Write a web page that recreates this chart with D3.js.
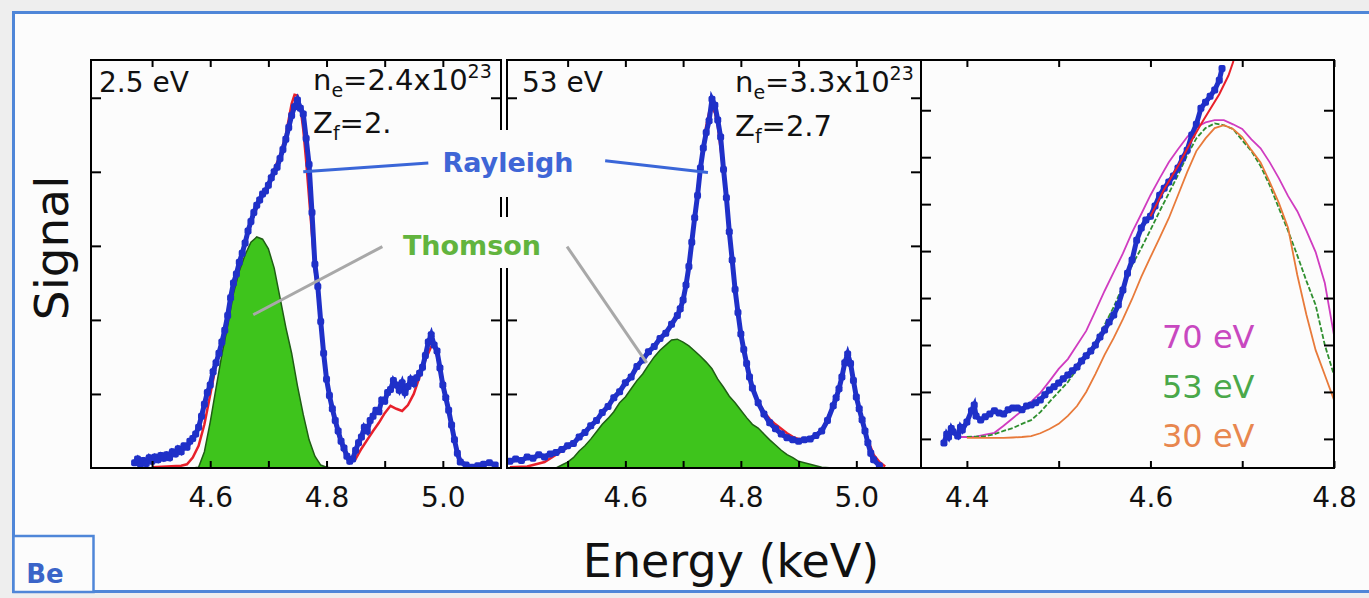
<!DOCTYPE html>
<html>
<head>
<meta charset="utf-8">
<script src="https://d3js.org/d3.v7.min.js"></script>
<style>
body { margin: 0; background: #efefef; }
svg { display: block; }
text { font-family: "DejaVu Sans", sans-serif; }
</style>
</head>
<body>
<div id="chart"></div>
<script>
// ---- data (energy keV, signal arb. units) ----
// panel 1 : 2.5 eV
var p1Data = [[4.47,0.07],[4.475,0.12],[4.48,0.05],[4.485,0.10],[4.49,0.06],[4.495,0.14],[4.50,0.09],[4.505,0.15],[4.51,0.11],[4.515,0.17],[4.52,0.13],[4.525,0.18],[4.53,0.14],[4.535,0.22],[4.54,0.19],[4.545,0.26],[4.55,0.22],[4.555,0.30],[4.56,0.28],[4.565,0.36],[4.57,0.40],[4.575,0.46],[4.58,0.55],[4.585,0.70],[4.59,0.86],[4.595,1.02],[4.60,1.12],[4.605,1.30],[4.61,1.42],[4.615,1.55],[4.62,1.70],[4.625,1.86],[4.63,2.06],[4.635,2.30],[4.64,2.50],[4.645,2.62],[4.65,2.78],[4.655,2.90],[4.66,3.04],[4.665,3.20],[4.67,3.33],[4.675,3.45],[4.68,3.55],[4.685,3.62],[4.69,3.70],[4.695,3.74],[4.70,3.82],[4.705,3.92],[4.71,4.00],[4.715,4.06],[4.72,4.18],[4.725,4.30],[4.73,4.44],[4.735,4.60],[4.74,4.76],[4.745,4.88],[4.75,4.97],[4.755,4.86],[4.76,4.78],[4.765,4.45],[4.77,4.10],[4.775,3.45],[4.78,2.75],[4.785,2.45],[4.79,1.98],[4.795,1.55],[4.80,1.20],[4.805,0.98],[4.81,0.80],[4.815,0.64],[4.82,0.50],[4.825,0.36],[4.83,0.27],[4.835,0.16],[4.84,0.09],[4.845,0.12],[4.85,0.24],[4.855,0.34],[4.86,0.42],[4.865,0.55],[4.87,0.50],[4.875,0.64],[4.88,0.70],[4.885,0.78],[4.89,0.76],[4.895,0.92],[4.90,0.90],[4.905,1.02],[4.91,1.06],[4.915,1.18],[4.92,1.12],[4.925,1.05],[4.93,1.15],[4.935,1.02],[4.94,1.10],[4.945,1.20],[4.95,1.14],[4.955,1.22],[4.96,1.28],[4.965,1.36],[4.97,1.52],[4.975,1.70],[4.98,1.80],[4.985,1.66],[4.99,1.58],[4.995,1.35],[5.00,1.12],[5.005,0.95],[5.01,0.78],[5.015,0.58],[5.02,0.38],[5.025,0.20],[5.03,0.08],[5.04,0.04],[5.05,0.01],[5.06,0.03],[5.07,0.05],[5.08,0.07],[5.09,0.04]];
var p1Fit = [[4.50,0.01],[4.55,0.03],[4.56,0.05],[4.57,0.14],[4.58,0.30],[4.59,0.59],[4.60,0.99],[4.61,1.39],[4.62,1.73],[4.63,2.09],[4.64,2.49],[4.65,2.77],[4.66,3.03],[4.67,3.31],[4.68,3.51],[4.69,3.68],[4.70,3.85],[4.71,4.03],[4.72,4.22],[4.73,4.50],[4.74,4.92],[4.745,5.04],[4.75,5.03],[4.755,4.88],[4.76,4.57],[4.765,4.14],[4.77,3.65],[4.775,3.15],[4.78,2.66],[4.785,2.35],[4.79,1.93],[4.80,1.19],[4.81,0.76],[4.82,0.45],[4.83,0.22],[4.84,0.12],[4.85,0.12],[4.86,0.26],[4.87,0.38],[4.88,0.50],[4.89,0.61],[4.90,0.74],[4.91,0.84],[4.92,0.80],[4.93,0.77],[4.94,0.85],[4.95,1.00],[4.96,1.23],[4.97,1.46],[4.98,1.64],[4.985,1.65],[4.99,1.51],[5.00,1.19],[5.01,0.74],[5.02,0.38],[5.03,0.12],[5.04,0.03],[5.05,0.01],[5.07,0.01]];
var p1Thomson = [[4.57,0],[4.58,0.01],[4.59,0.22],[4.60,0.62],[4.61,1.08],[4.62,1.53],[4.63,1.92],[4.64,2.36],[4.65,2.66],[4.66,2.88],[4.67,3.05],[4.68,3.12],[4.69,3.09],[4.70,2.96],[4.71,2.70],[4.72,2.30],[4.73,1.90],[4.74,1.55],[4.75,1.11],[4.76,0.72],[4.77,0.38],[4.78,0.16],[4.79,0.04],[4.80,0.01],[4.81,0]];

// panel 2 : 53 eV
var p2Data = [[4.40,0.09],[4.41,0.12],[4.42,0.10],[4.43,0.15],[4.44,0.13],[4.45,0.18],[4.46,0.15],[4.47,0.19],[4.48,0.21],[4.49,0.25],[4.50,0.30],[4.51,0.33],[4.52,0.42],[4.53,0.48],[4.54,0.57],[4.55,0.64],[4.56,0.75],[4.57,0.83],[4.58,0.95],[4.59,1.03],[4.60,1.15],[4.61,1.23],[4.62,1.37],[4.63,1.46],[4.64,1.57],[4.65,1.64],[4.66,1.75],[4.67,1.82],[4.68,1.94],[4.69,2.06],[4.695,2.15],[4.70,2.27],[4.705,2.47],[4.71,2.72],[4.715,3.05],[4.72,3.38],[4.725,3.68],[4.73,4.05],[4.735,4.32],[4.74,4.53],[4.745,4.69],[4.75,4.98],[4.755,4.90],[4.76,4.70],[4.765,4.47],[4.77,4.03],[4.775,3.65],[4.78,3.19],[4.785,2.81],[4.79,2.41],[4.795,2.10],[4.80,1.81],[4.805,1.60],[4.81,1.41],[4.815,1.23],[4.82,1.08],[4.83,0.88],[4.84,0.73],[4.85,0.61],[4.86,0.53],[4.87,0.46],[4.88,0.41],[4.89,0.38],[4.90,0.36],[4.91,0.38],[4.92,0.39],[4.93,0.44],[4.94,0.50],[4.95,0.64],[4.96,0.84],[4.965,0.95],[4.97,1.07],[4.975,1.23],[4.98,1.42],[4.985,1.54],[4.99,1.41],[4.995,1.18],[5.00,0.96],[5.005,0.80],[5.01,0.65],[5.015,0.50],[5.02,0.34],[5.025,0.20],[5.03,0.11],[5.04,0.03]];
var p2Fit = [[4.40,0.01],[4.43,0.02],[4.46,0.08],[4.48,0.18],[4.50,0.28],[4.53,0.49],[4.56,0.74],[4.60,1.13],[4.64,1.55],[4.67,1.82],[4.69,2.05],[4.70,2.25],[4.71,2.70],[4.72,3.40],[4.73,4.10],[4.74,4.62],[4.745,4.80],[4.75,4.86],[4.755,4.80],[4.76,4.62],[4.77,4.00],[4.78,3.15],[4.79,2.40],[4.80,1.82],[4.81,1.42],[4.82,1.10],[4.83,0.90],[4.84,0.76],[4.85,0.66],[4.86,0.59],[4.87,0.53],[4.88,0.47],[4.89,0.42],[4.90,0.39],[4.92,0.40],[4.94,0.51],[4.96,0.84],[4.97,1.07],[4.98,1.40],[4.985,1.50],[4.99,1.40],[5.00,0.98],[5.01,0.66],[5.02,0.38],[5.03,0.18],[5.04,0.08],[5.05,0.02]];
var p2Thomson = [[4.48,0],[4.49,0.04],[4.50,0.08],[4.51,0.14],[4.52,0.23],[4.53,0.30],[4.54,0.39],[4.55,0.49],[4.56,0.59],[4.57,0.67],[4.58,0.76],[4.59,0.88],[4.60,0.96],[4.61,1.07],[4.62,1.18],[4.63,1.27],[4.64,1.39],[4.65,1.50],[4.66,1.59],[4.67,1.66],[4.68,1.73],[4.69,1.74],[4.70,1.70],[4.71,1.65],[4.72,1.58],[4.73,1.51],[4.74,1.43],[4.75,1.34],[4.76,1.20],[4.77,1.09],[4.78,0.97],[4.79,0.88],[4.80,0.78],[4.81,0.68],[4.82,0.59],[4.83,0.54],[4.84,0.46],[4.85,0.38],[4.86,0.31],[4.87,0.24],[4.88,0.18],[4.89,0.14],[4.90,0.09],[4.91,0.07],[4.92,0.05],[4.93,0.03],[4.94,0.01],[4.96,0]];

// panel 3 : zoom on the Thomson feature, fits at three temperatures
var p3Data = [[4.375,-0.09],[4.378,0.10],[4.38,0.04],[4.383,0.22],[4.385,0.15],[4.39,0.06],[4.393,0.25],[4.395,0.19],[4.40,0.36],[4.405,0.60],[4.408,0.72],[4.41,0.49],[4.415,0.40],[4.42,0.47],[4.425,0.53],[4.43,0.60],[4.435,0.55],[4.44,0.53],[4.445,0.62],[4.45,0.66],[4.455,0.66],[4.46,0.62],[4.465,0.70],[4.47,0.72],[4.475,0.77],[4.48,0.83],[4.485,0.94],[4.49,1.04],[4.495,1.11],[4.50,1.19],[4.505,1.28],[4.51,1.36],[4.515,1.45],[4.52,1.53],[4.525,1.66],[4.53,1.77],[4.535,1.87],[4.54,2.00],[4.545,2.17],[4.55,2.32],[4.555,2.49],[4.56,2.64],[4.565,2.85],[4.57,3.17],[4.575,3.53],[4.58,3.81],[4.585,4.23],[4.59,4.49],[4.595,4.66],[4.60,4.74],[4.605,4.96],[4.61,5.19],[4.615,5.34],[4.62,5.47],[4.625,5.60],[4.63,5.77],[4.635,5.98],[4.64,6.15],[4.645,6.47],[4.65,6.70],[4.655,7.04],[4.66,7.17],[4.665,7.30],[4.67,7.43],[4.675,7.64],[4.678,7.89]];
var p3Fit = [[4.60,4.74],[4.615,5.32],[4.63,5.81],[4.645,6.36],[4.655,6.70],[4.665,7.02],[4.675,7.34],[4.685,7.74],[4.69,8.02],[4.692,8.2]];
var p3Fit70 = [[4.39,0.04],[4.40,0.04],[4.41,0.05],[4.42,0.09],[4.43,0.13],[4.44,0.28],[4.45,0.44],[4.46,0.60],[4.47,0.79],[4.48,0.98],[4.49,1.23],[4.50,1.49],[4.51,1.70],[4.52,2.00],[4.53,2.30],[4.54,2.72],[4.55,3.15],[4.56,3.55],[4.57,3.95],[4.58,4.40],[4.59,4.79],[4.60,5.19],[4.61,5.55],[4.62,5.89],[4.63,6.17],[4.64,6.43],[4.65,6.64],[4.66,6.74],[4.67,6.79],[4.68,6.79],[4.69,6.70],[4.70,6.60],[4.71,6.38],[4.72,6.19],[4.73,5.89],[4.74,5.55],[4.75,5.17],[4.76,4.85],[4.77,4.43],[4.78,3.98],[4.79,3.32],[4.80,2.21]];
var p3Fit53 = [[4.40,0.04],[4.41,0.05],[4.42,0.06],[4.43,0.10],[4.44,0.17],[4.45,0.23],[4.46,0.32],[4.47,0.40],[4.48,0.57],[4.49,0.79],[4.50,1.00],[4.51,1.21],[4.52,1.49],[4.53,1.77],[4.54,2.06],[4.55,2.43],[4.56,2.81],[4.57,3.26],[4.58,3.70],[4.59,4.06],[4.60,4.45],[4.61,4.85],[4.62,5.23],[4.63,5.62],[4.64,6.04],[4.65,6.40],[4.66,6.62],[4.67,6.72],[4.68,6.68],[4.69,6.60],[4.70,6.36],[4.71,6.13],[4.72,5.81],[4.73,5.40],[4.74,4.91],[4.75,4.43],[4.76,3.91],[4.77,3.36],[4.78,2.85],[4.79,2.00],[4.80,1.36]];
var p3Fit30 = [[4.40,0.02],[4.42,0.02],[4.44,0.02],[4.45,0.03],[4.46,0.04],[4.47,0.06],[4.48,0.12],[4.49,0.21],[4.50,0.32],[4.51,0.49],[4.52,0.70],[4.53,1.00],[4.54,1.38],[4.55,1.79],[4.56,2.15],[4.57,2.55],[4.58,2.98],[4.59,3.45],[4.60,3.87],[4.61,4.28],[4.62,4.70],[4.63,5.19],[4.64,5.68],[4.65,6.13],[4.66,6.40],[4.67,6.62],[4.68,6.68],[4.69,6.60],[4.70,6.43],[4.71,6.15],[4.72,5.89],[4.73,5.47],[4.74,5.02],[4.75,4.49],[4.76,3.49],[4.77,2.64],[4.78,1.89],[4.79,1.36],[4.80,0.83]];

// ticks and labels
var p12Ticks = [4.5, 4.6, 4.7, 4.8, 4.9, 5.0];
var p12TickLabels = ["", "4.6", "", "4.8", "", "5.0"];
var p12YTicks = [1, 2, 3, 4, 5];
var p3Ticks = [4.4, 4.5, 4.6, 4.7, 4.8];
var p3TickLabels = ["4.4", "", "4.6", "", "4.8"];
var p3YTicks = [0, 1, 2, 3, 4, 5, 6, 7];
var legendLabels = ["70 eV", "53 eV", "30 eV"];

// colours
var blue = "#1f30c8";
var red = "#e8202a";
var greenFill = "#3ec41c";
var greenEdge = "#1f5e14";
var curveColors = ["#d03cc0", "#2f8f2f", "#e87a3a"];
var legendColors = ["#c848c0", "#4aa84a", "#e8874f"];

var svg;
var plotTop = 60, plotBottom = 468;

function makePanel(id, left, right, xDomain, yDomain, xTicks, xLabels, yTicks) {
    var x = d3.scaleLinear().domain(xDomain).range([left, right]);
    var y = d3.scaleLinear().domain(yDomain).range([plotBottom, plotTop]);

    svg.append("clipPath").attr("id", "clip" + id)
        .append("rect")
        .attr("x", left).attr("y", plotTop)
        .attr("width", right - left).attr("height", plotBottom - plotTop);

    var marks = svg.append("g").attr("clip-path", "url(#clip" + id + ")");
    var axes = svg.append("g");

    function style(g) {
        g.select(".domain").remove();
        g.selectAll(".tick line").attr("stroke", "#000").attr("stroke-width", 2);
        g.selectAll(".tick text").attr("font-family", "DejaVu Sans, sans-serif")
            .attr("font-size", 28).attr("fill", "#111");
    }

    axes.append("g")
        .attr("transform", "translate(0," + plotBottom + ")")
        .call(d3.axisBottom(x).tickValues(xTicks).tickSizeInner(-7).tickSizeOuter(0)
            .tickPadding(19).tickFormat(function(d, i) { return xLabels[i]; }))
        .call(style);
    axes.append("g")
        .attr("transform", "translate(0," + plotTop + ")")
        .call(d3.axisTop(x).tickValues(xTicks).tickSizeInner(-7).tickSizeOuter(0).tickFormat(""))
        .call(style);
    axes.append("g")
        .attr("transform", "translate(" + left + ",0)")
        .call(d3.axisLeft(y).tickValues(yTicks).tickSizeInner(-10).tickSizeOuter(0).tickFormat(""))
        .call(style);
    axes.append("g")
        .attr("transform", "translate(" + right + ",0)")
        .call(d3.axisRight(y).tickValues(yTicks).tickSizeInner(-10).tickSizeOuter(0).tickFormat(""))
        .call(style);

    axes.append("rect")
        .attr("x", left).attr("y", plotTop)
        .attr("width", right - left).attr("height", plotBottom - plotTop)
        .attr("fill", "none").attr("stroke", "#000").attr("stroke-width", 2);

    return {x: x, y: y, marks: marks};
}

function drawArea(p, data) {
    var area = d3.area()
        .x(function(d) { return p.x(d[0]); })
        .y0(p.y(0))
        .y1(function(d) { return p.y(d[1]); });
    p.marks.append("path").datum(data)
        .attr("d", area)
        .attr("fill", greenFill)
        .attr("stroke", greenEdge)
        .attr("stroke-width", 1.5);
}

function drawLine(p, data, color, w, dash) {
    var line = d3.line()
        .x(function(d) { return p.x(d[0]); })
        .y(function(d) { return p.y(d[1]); });
    p.marks.append("path").datum(data)
        .attr("d", line)
        .attr("fill", "none")
        .attr("stroke", color)
        .attr("stroke-width", w)
        .attr("stroke-dasharray", dash || null);
}

function drawDots(p, data) {
    drawLine(p, data, blue, 5);
    p.marks.selectAll(null)
        .data(data)
        .enter()
        .append("rect")
        .attr("x", function(d) { return p.x(d[0]) - 3.5; })
        .attr("y", function(d) { return p.y(d[1]) - 3.5; })
        .attr("width", 7).attr("height", 7)
        .attr("rx", 2)
        .attr("fill", blue);
}

function panelText(x, y, parts) {
    // parts: [text, kind] kind = "" | "sub" | "sup"
    var t = svg.append("text").attr("x", x).attr("y", y)
        .attr("font-size", 29).attr("fill", "#111");
    var shift = 0;
    parts.forEach(function(p) {
        var target = p[1] == "sub" ? 7 : (p[1] == "sup" ? -12 : 0);
        t.append("tspan")
            .attr("dy", target - shift)
            .attr("font-size", p[1] ? 19 : 29)
            .text(p[0]);
        shift = target;
    });
}

function init() {
    svg = d3.select("#chart").append("svg")
        .attr("width", 1369)
        .attr("height", 598);

    // outer frame
    svg.append("rect").attr("x", 0).attr("y", 0).attr("width", 1369).attr("height", 598)
        .attr("fill", "#eeeeee");
    svg.append("rect").attr("x", 13.5).attr("y", 12.5).attr("width", 1370).attr("height", 579)
        .attr("fill", "#fcfcfc").attr("stroke", "#4f86d8").attr("stroke-width", 3);

    var p1 = makePanel(1, 91, 501, [4.395, 5.1], [0, 5.51], p12Ticks, p12TickLabels, p12YTicks);
    var p2 = makePanel(2, 507, 921, [4.395, 5.112], [0, 5.51], p12Ticks, p12TickLabels, p12YTicks);
    var p3 = makePanel(3, 921, 1334, [4.35, 4.8], [-0.62, 8.07], p3Ticks, p3TickLabels, p3YTicks);

    drawArea(p1, p1Thomson);
    drawLine(p1, p1Fit, red, 2.5);
    drawDots(p1, p1Data);

    drawArea(p2, p2Thomson);
    drawLine(p2, p2Fit, red, 2.5);
    drawDots(p2, p2Data);

    drawLine(p3, p3Fit70, curveColors[0], 1.8);
    drawLine(p3, p3Fit53, curveColors[1], 1.8, "5,2");
    drawLine(p3, p3Fit30, curveColors[2], 1.8);
    drawDots(p3, p3Data);
    drawLine(p3, p3Fit, red, 2);

    // white boxes behind the annotation labels
    svg.append("rect").attr("x", 437).attr("y", 130).attr("width", 146).attr("height", 67).attr("fill", "#fcfcfc");
    svg.append("rect").attr("x", 398).attr("y", 217).attr("width", 151).attr("height", 51).attr("fill", "#fcfcfc");

    // Rayleigh pointers
    svg.append("line")
        .attr("x1", p1.x(4.975)).attr("y1", p1.y(4.12))
        .attr("x2", p1.x(4.76)).attr("y2", p1.y(4.0))
        .attr("stroke", "#3a66d8").attr("stroke-width", 3);
    svg.append("line")
        .attr("x1", p2.x(4.565)).attr("y1", p2.y(4.15))
        .attr("x2", p2.x(4.743)).attr("y2", p2.y(3.99))
        .attr("stroke", "#3a66d8").attr("stroke-width", 3);
    // Thomson pointers
    svg.append("line")
        .attr("x1", p1.x(4.896)).attr("y1", p1.y(2.99))
        .attr("x2", p1.x(4.674)).attr("y2", p1.y(2.07))
        .attr("stroke", "#a8a8a8").attr("stroke-width", 3);
    svg.append("line")
        .attr("x1", p2.x(4.499)).attr("y1", p2.y(2.99))
        .attr("x2", p2.x(4.637)).attr("y2", p2.y(1.42))
        .attr("stroke", "#a8a8a8").attr("stroke-width", 3);

    svg.append("text").attr("x", 508).attr("y", 172)
        .attr("text-anchor", "middle").attr("font-weight", "bold")
        .attr("font-size", 27).attr("fill", "#3f66d6").text("Rayleigh");
    svg.append("text").attr("x", 472).attr("y", 255)
        .attr("text-anchor", "middle").attr("font-weight", "bold")
        .attr("font-size", 27).attr("fill", "#62b43e").text("Thomson");

    // panel annotations
    svg.append("text").attr("x", 99).attr("y", 92).attr("font-size", 28).attr("fill", "#111").text("2.5 eV");
    svg.append("text").attr("x", 522).attr("y", 92).attr("font-size", 28).attr("fill", "#111").text("53 eV");
    panelText(313, 90, [["n", ""], ["e", "sub"], ["=2.4x10", ""], ["23", "sup"]]);
    panelText(313, 133, [["Z", ""], ["f", "sub"], ["=2.", ""]]);
    panelText(735, 92, [["n", ""], ["e", "sub"], ["=3.3x10", ""], ["23", "sup"]]);
    panelText(735, 136, [["Z", ""], ["f", "sub"], ["=2.7", ""]]);

    // legend of panel 3
    svg.selectAll(null)
        .data(legendLabels)
        .enter()
        .append("text")
        .attr("x", 1162)
        .attr("y", function(d, i) { return 348 + i * 49.5; })
        .attr("font-size", 32)
        .attr("fill", function(d, i) { return legendColors[i]; })
        .text(function(d) { return d; });

    // axis titles
    svg.append("text")
        .attr("transform", "translate(68,248) rotate(-90)")
        .attr("text-anchor", "middle")
        .attr("font-size", 47).attr("fill", "#111")
        .text("Signal");
    svg.append("text")
        .attr("x", 731).attr("y", 577)
        .attr("text-anchor", "middle")
        .attr("font-size", 46).attr("fill", "#111")
        .text("Energy (keV)");

    // element tag
    svg.append("rect").attr("x", 13.5).attr("y", 536).attr("width", 80).attr("height", 56)
        .attr("fill", "#fcfcfc").attr("stroke", "#4f86d8").attr("stroke-width", 2.5);
    svg.append("text").attr("x", 45).attr("y", 583)
        .attr("text-anchor", "middle").attr("font-weight", "bold")
        .attr("font-size", 26).attr("fill", "#3a64c8").text("Be");
}

window.onload = init;
</script>
</body>
</html>
